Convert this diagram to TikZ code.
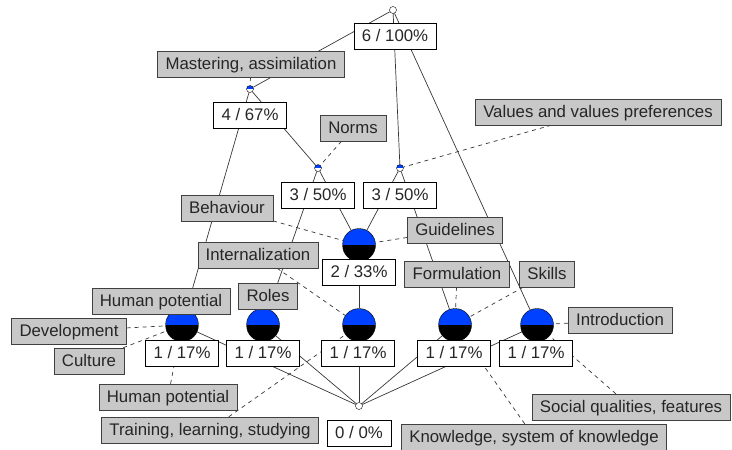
\documentclass[tikz,border=0pt]{standalone}
\usepackage{fontspec}
\setmainfont{Liberation Sans}
\usetikzlibrary{backgrounds}
\definecolor{cblue}{RGB}{0,64,255}
\definecolor{lblgray}{RGB}{200,200,200}
\definecolor{lineg}{RGB}{55,55,55}
\begin{document}
\begin{tikzpicture}[x=1pt,y=-1pt,
    cpoint/.style={circle,draw=black,fill=white,inner sep=0pt,minimum size=7pt},
    halfpoint/.style={cpoint,path picture={\fill[cblue] (path picture bounding box.west) rectangle (path picture bounding box.north east);}},
    bigpoint/.style={circle,draw=black,inner sep=0pt,minimum size=33pt,
        path picture={\fill[cblue] (path picture bounding box.west) rectangle (path picture bounding box.north east);
                      \fill[black] (path picture bounding box.west) rectangle (path picture bounding box.south east);}},
    attr/.style={draw=black!75,fill=lblgray,text=black!85,font=\fontsize{16.8}{18}\selectfont,
        inner xsep=8pt,inner ysep=0pt,minimum height=26pt,text height=13pt,text depth=2.5pt},
    cnt/.style={attr,fill=white,draw=black},
    link/.style={lineg,line width=0.7pt},
    dlink/.style={lineg,line width=0.7pt,dash pattern=on 4pt off 4pt}]
            \useasboundingbox (0,0) rectangle (732,450);
            % concepts
            \node[cpoint] (top) at (393,10) {};
            \node[halfpoint] (a) at (250,89) {};
            \node[halfpoint] (b) at (318,168) {};
            \node[halfpoint] (c) at (400,168) {};
            \node[bigpoint] (d) at (359,245) {};
            \node[bigpoint] (e1) at (182,325) {};
            \node[bigpoint] (e2) at (263,325) {};
            \node[bigpoint] (e3) at (359,325) {};
            \node[bigpoint] (e4) at (455,325) {};
            \node[bigpoint] (e5) at (537,325) {};
            \node[cpoint] (bot) at (359,406) {};
            % extents
            \node[cnt] (ntop) at (395,36) {6 / 100\%};
            \node[cnt] (na) at (250,115) {4 / 67\%};
            \node[cnt] (nb) at (318,195) {3 / 50\%};
            \node[cnt] (nc) at (400,195) {3 / 50\%};
            \node[cnt] (nd) at (359,272) {2 / 33\%};
            \node[cnt] (ne1) at (182,353) {1 / 17\%};
            \node[cnt] (ne2) at (263,353) {1 / 17\%};
            \node[cnt] (ne3) at (358,353) {1 / 17\%};
            \node[cnt] (ne4) at (454,353) {1 / 17\%};
            \node[cnt] (ne5) at (536,353) {1 / 17\%};
            \node[cnt] (nbot) at (359,433) {0 / 0\%};
            % attributes
            \node[attr] (mast) at (251,64) {Mastering, assimilation};
            \node[attr] (norms) at (353,128) {Norms};
            \node[attr] (values) at (598,112) {Values and values preferences};
            \node[attr] (behav) at (227,208) {Behaviour};
            \node[attr] (guide) at (455,230) {Guidelines};
            \node[attr] (intern) at (258,255) {Internalization};
            \node[attr] (form) at (457,274) {Formulation};
            \node[attr] (skills) at (547,274) {Skills};
            \node[attr] (hpot) at (161,301) {Human potential};
            \node[attr] (roles) at (268,296) {Roles};
            \node[attr] (devel) at (69,331) {Development};
            \node[attr] (intro) at (620,320) {Introduction};
            % objects
            \node[attr] (cult) at (89,361) {Culture};
            \node[attr] (hpotb) at (168,397) {Human potential};
            \node[attr] (train) at (210,430) {Training, learning, studying};
            \node[attr] (social) at (631,407) {Social qualities, features};
            \node[attr] (knowl) at (534,437) {Knowledge, system of knowledge};
            \begin{pgfonlayer}{background}
            \draw[link] (top) edge (a) (top) edge (c) (top) edge (e5);
            \draw[link] (a) edge (b) (a) edge (e1);
            \draw[link] (b) edge (d) (c) edge (d);
            \draw[link] (b) edge (e2) (c) edge (e4) (d) edge (e3);
            \draw[link] (e1) edge (bot) (e2) edge (bot) (e3) edge (bot);
            \draw[link] (e4) edge (bot) (e5) edge (bot);
            \draw[dlink] (mast) edge (a) (norms) edge (b) (values) edge (c);
            \draw[dlink] (behav) edge (d) (guide) edge (d);
            \draw[dlink] (intern) edge (e3) (roles) edge (e2);
            \draw[dlink] (hpot) edge (e1) (devel) edge (e1) (cult) edge (e1);
            \draw[dlink] (form) edge (e4) (skills) edge (e4) (intro) edge (e5);
            \draw[dlink] (hpotb) edge (e1) (train) edge (e3);
            \draw[dlink] (social) edge (e5) (knowl) edge (e4);
            \end{pgfonlayer}
        \end{tikzpicture}
\end{document}
